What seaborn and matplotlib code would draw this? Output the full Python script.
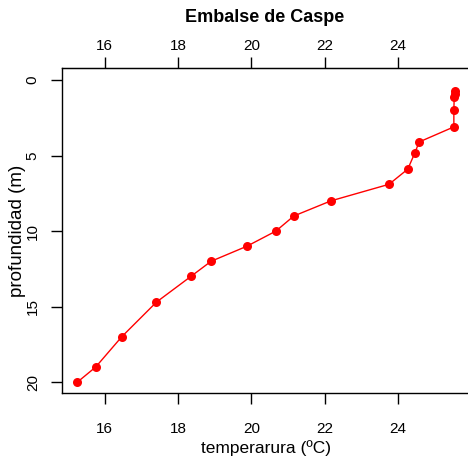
import numpy as np
import pandas as pd
import seaborn as sns
import matplotlib.pyplot as plt

# temperature profile, values
temperatura = [25.56, 25.55, 25.54, 25.53, 25.53, 24.58, 24.47, 24.27, 23.76,
               22.17, 21.16, 20.67, 19.88, 18.90, 18.35, 17.41, 16.46, 15.75, 15.25]
profundidad = [0.7, 0.9, 1.1, 2.0, 3.1, 4.1, 4.8, 5.9, 6.9,
               8.0, 9.0, 10.0, 11.0, 12.0, 13.0, 14.7, 17.0, 19.0, 20.0]
xticks = [16, 18, 20, 22, 24]
yticks = [0, 5, 10, 15, 20]

df = pd.DataFrame({"temp": temperatura, "prof": profundidad})

sns.set_style("white")
plt.rcParams['font.family'] = ['Liberation Sans', 'DejaVu Sans']
plt.rcParams.update({"text.color": "black", "axes.labelcolor": "black",
                     "xtick.color": "black", "ytick.color": "black"})

fig = plt.figure(figsize=(4.68, 4.68), dpi=100)
ax = fig.add_axes([62 / 468, 75 / 468, (469.6 - 62) / 468, 325 / 468])

sns.lineplot(data=df, x="temp", y="prof", sort=False, estimator=None,
             color="#ff0000", linewidth=1, marker="o", markersize=6.5,
             markeredgewidth=0, ax=ax)

ax.set_xlim(14.83, 25.96)
ax.set_ylim(20.72, -0.8)
ax.set_xticks(xticks)
ax.set_yticks(yticks)

for s in ax.spines.values():
    s.set_color("black")
    s.set_linewidth(1)

ax.tick_params(axis="x", direction="out", length=8, width=1, pad=13,
               labelsize=11, colors="black", bottom=True)
ax.tick_params(axis="y", direction="out", length=8, width=1, pad=8,
               labelsize=11, colors="black", left=True)
for lab in ax.get_yticklabels():
    lab.set_rotation(90)
    lab.set_va("center")

top = ax.secondary_xaxis("top")
top.set_xticks(xticks)
top.tick_params(direction="out", length=8, width=1, pad=3, labelsize=11,
                colors="black")

ax.set_xlabel("temperarura (ºC)", fontsize=12.5, labelpad=3)
ax.set_ylabel("profundidad (m)", fontsize=13.5)
ax.yaxis.set_label_coords(-0.088, 0.5)

fig.text(265 / 468, 1 - 17 / 468, "Embalse de Caspe", ha="center", va="center",
         fontsize=13, fontweight="bold", color="black")

fig.savefig("out.png", dpi=100)
